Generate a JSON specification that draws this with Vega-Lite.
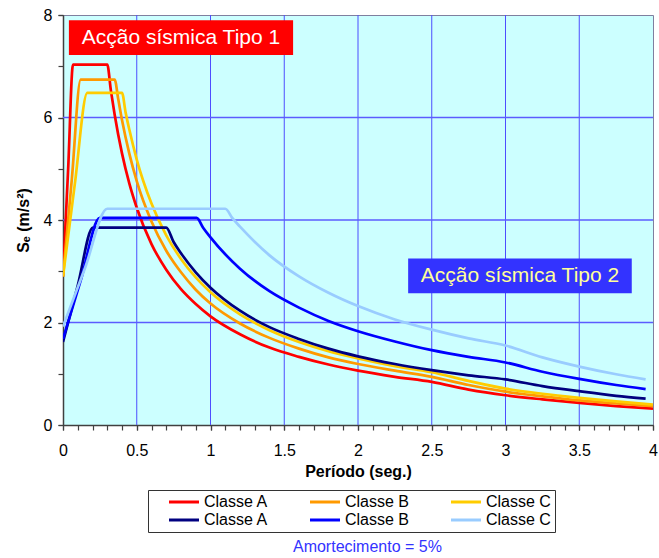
{
  "$schema": "https://vega.github.io/schema/vega-lite/v6.json",
  "width": 590,
  "height": 410,
  "autosize": "none",
  "padding": {"left": 63, "top": 15, "right": 6, "bottom": 133},
  "config": {
    "font": "Liberation Sans",
    "view": {"fill": "#ccffff", "stroke": "#7f7f9f", "strokeWidth": 1}
  },
  "resolve": {"axis": {"x": "independent", "y": "independent"}},
  "datasets": {
    "curves": [
      {"series": "T1A", "T": 0, "Se": 2.9}, {"series": "T1A", "T": 0.035, "Se": 5.0}, {"series": "T1A", "T": 0.068, "Se": 7.03}, {"series": "T1A", "T": 0.30, "Se": 7.03}, {"series": "T1A", "T": 0.325, "Se": 6.52}, {"series": "T1A", "T": 0.35, "Se": 6.06}, {"series": "T1A", "T": 0.4, "Se": 5.3}, {"series": "T1A", "T": 0.45, "Se": 4.71}, {"series": "T1A", "T": 0.5, "Se": 4.24}, {"series": "T1A", "T": 0.6, "Se": 3.53}, {"series": "T1A", "T": 0.7, "Se": 3.03}, {"series": "T1A", "T": 0.8, "Se": 2.65}, {"series": "T1A", "T": 0.9, "Se": 2.36}, {"series": "T1A", "T": 1.0, "Se": 2.12}, {"series": "T1A", "T": 1.2, "Se": 1.77}, {"series": "T1A", "T": 1.4, "Se": 1.51}, {"series": "T1A", "T": 1.6, "Se": 1.33}, {"series": "T1A", "T": 1.8, "Se": 1.18}, {"series": "T1A", "T": 2.0, "Se": 1.06}, {"series": "T1A", "T": 2.25, "Se": 0.94}, {"series": "T1A", "T": 2.5, "Se": 0.84}, {"series": "T1A", "T": 2.75, "Se": 0.69}, {"series": "T1A", "T": 3.0, "Se": 0.58}, {"series": "T1A", "T": 3.25, "Se": 0.5}, {"series": "T1A", "T": 3.5, "Se": 0.43}, {"series": "T1A", "T": 3.75, "Se": 0.37}, {"series": "T1A", "T": 4.0, "Se": 0.32},
      {"series": "T1B", "T": 0, "Se": 2.9}, {"series": "T1B", "T": 0.06, "Se": 4.8}, {"series": "T1B", "T": 0.12, "Se": 6.74}, {"series": "T1B", "T": 0.35, "Se": 6.74}, {"series": "T1B", "T": 0.375, "Se": 6.35}, {"series": "T1B", "T": 0.4, "Se": 5.95}, {"series": "T1B", "T": 0.45, "Se": 5.29}, {"series": "T1B", "T": 0.5, "Se": 4.76}, {"series": "T1B", "T": 0.6, "Se": 3.97}, {"series": "T1B", "T": 0.7, "Se": 3.4}, {"series": "T1B", "T": 0.8, "Se": 2.98}, {"series": "T1B", "T": 0.9, "Se": 2.64}, {"series": "T1B", "T": 1.0, "Se": 2.37}, {"series": "T1B", "T": 1.2, "Se": 1.98}, {"series": "T1B", "T": 1.4, "Se": 1.7}, {"series": "T1B", "T": 1.6, "Se": 1.49}, {"series": "T1B", "T": 1.8, "Se": 1.32}, {"series": "T1B", "T": 2.0, "Se": 1.19}, {"series": "T1B", "T": 2.25, "Se": 1.06}, {"series": "T1B", "T": 2.5, "Se": 0.94}, {"series": "T1B", "T": 2.75, "Se": 0.78}, {"series": "T1B", "T": 3.0, "Se": 0.65}, {"series": "T1B", "T": 3.25, "Se": 0.56}, {"series": "T1B", "T": 3.5, "Se": 0.48}, {"series": "T1B", "T": 3.75, "Se": 0.42}, {"series": "T1B", "T": 4.0, "Se": 0.37},
      {"series": "T1C", "T": 0, "Se": 2.9}, {"series": "T1C", "T": 0.08, "Se": 4.7}, {"series": "T1C", "T": 0.165, "Se": 6.48}, {"series": "T1C", "T": 0.4, "Se": 6.48}, {"series": "T1C", "T": 0.425, "Se": 6.09}, {"series": "T1C", "T": 0.45, "Se": 5.76}, {"series": "T1C", "T": 0.5, "Se": 5.18}, {"series": "T1C", "T": 0.6, "Se": 4.32}, {"series": "T1C", "T": 0.7, "Se": 3.7}, {"series": "T1C", "T": 0.8, "Se": 3.24}, {"series": "T1C", "T": 0.9, "Se": 2.88}, {"series": "T1C", "T": 1.0, "Se": 2.59}, {"series": "T1C", "T": 1.2, "Se": 2.16}, {"series": "T1C", "T": 1.4, "Se": 1.85}, {"series": "T1C", "T": 1.6, "Se": 1.62}, {"series": "T1C", "T": 1.8, "Se": 1.44}, {"series": "T1C", "T": 2.0, "Se": 1.3}, {"series": "T1C", "T": 2.25, "Se": 1.15}, {"series": "T1C", "T": 2.5, "Se": 1.03}, {"series": "T1C", "T": 2.75, "Se": 0.86}, {"series": "T1C", "T": 3.0, "Se": 0.71}, {"series": "T1C", "T": 3.25, "Se": 0.61}, {"series": "T1C", "T": 3.5, "Se": 0.53}, {"series": "T1C", "T": 3.75, "Se": 0.46}, {"series": "T1C", "T": 4.0, "Se": 0.4},
      {"series": "T2A", "T": 0, "Se": 1.62}, {"series": "T2A", "T": 0.1, "Se": 2.72}, {"series": "T2A", "T": 0.203, "Se": 3.85}, {"series": "T2A", "T": 0.7, "Se": 3.85}, {"series": "T2A", "T": 0.75, "Se": 3.57}, {"series": "T2A", "T": 0.8, "Se": 3.35}, {"series": "T2A", "T": 0.9, "Se": 2.98}, {"series": "T2A", "T": 1.0, "Se": 2.68}, {"series": "T2A", "T": 1.2, "Se": 2.23}, {"series": "T2A", "T": 1.4, "Se": 1.91}, {"series": "T2A", "T": 1.6, "Se": 1.68}, {"series": "T2A", "T": 1.8, "Se": 1.49}, {"series": "T2A", "T": 2.0, "Se": 1.34}, {"series": "T2A", "T": 2.25, "Se": 1.19}, {"series": "T2A", "T": 2.5, "Se": 1.07}, {"series": "T2A", "T": 2.75, "Se": 0.97}, {"series": "T2A", "T": 3.0, "Se": 0.89}, {"series": "T2A", "T": 3.25, "Se": 0.76}, {"series": "T2A", "T": 3.5, "Se": 0.66}, {"series": "T2A", "T": 3.75, "Se": 0.57}, {"series": "T2A", "T": 3.95, "Se": 0.515},
      {"series": "T2B", "T": 0, "Se": 1.68}, {"series": "T2B", "T": 0.12, "Se": 2.82}, {"series": "T2B", "T": 0.25, "Se": 4.04}, {"series": "T2B", "T": 0.906, "Se": 4.04}, {"series": "T2B", "T": 0.95, "Se": 3.85}, {"series": "T2B", "T": 1.0, "Se": 3.66}, {"series": "T2B", "T": 1.2, "Se": 3.05}, {"series": "T2B", "T": 1.4, "Se": 2.61}, {"series": "T2B", "T": 1.6, "Se": 2.29}, {"series": "T2B", "T": 1.8, "Se": 2.03}, {"series": "T2B", "T": 2.0, "Se": 1.83}, {"series": "T2B", "T": 2.25, "Se": 1.63}, {"series": "T2B", "T": 2.5, "Se": 1.46}, {"series": "T2B", "T": 2.75, "Se": 1.33}, {"series": "T2B", "T": 3.0, "Se": 1.22}, {"series": "T2B", "T": 3.25, "Se": 1.04}, {"series": "T2B", "T": 3.5, "Se": 0.9}, {"series": "T2B", "T": 3.75, "Se": 0.78}, {"series": "T2B", "T": 3.95, "Se": 0.7},
      {"series": "T2C", "T": 0, "Se": 1.92}, {"series": "T2C", "T": 0.15, "Se": 3.07}, {"series": "T2C", "T": 0.30, "Se": 4.22}, {"series": "T2C", "T": 1.1, "Se": 4.22}, {"series": "T2C", "T": 1.15, "Se": 4.03}, {"series": "T2C", "T": 1.2, "Se": 3.87}, {"series": "T2C", "T": 1.4, "Se": 3.31}, {"series": "T2C", "T": 1.6, "Se": 2.9}, {"series": "T2C", "T": 1.8, "Se": 2.58}, {"series": "T2C", "T": 2.0, "Se": 2.32}, {"series": "T2C", "T": 2.25, "Se": 2.06}, {"series": "T2C", "T": 2.5, "Se": 1.86}, {"series": "T2C", "T": 2.75, "Se": 1.69}, {"series": "T2C", "T": 3.0, "Se": 1.55}, {"series": "T2C", "T": 3.25, "Se": 1.32}, {"series": "T2C", "T": 3.5, "Se": 1.14}, {"series": "T2C", "T": 3.75, "Se": 0.99}, {"series": "T2C", "T": 3.95, "Se": 0.89}
    ],
    "vgrid": [{"v": 0.5}, {"v": 1}, {"v": 1.5}, {"v": 2}, {"v": 2.5}, {"v": 3}, {"v": 3.5}],
    "hgrid": [{"h": 2}, {"h": 4}, {"h": 6}],
    "box1": [{"label": "Acção sísmica Tipo 1", "t0": 0.04, "t1": 1.56, "s0": 7.22, "s1": 7.9, "tm": 0.8, "sm": 7.55}],
    "box2": [{"label": "Acção sísmica Tipo 2", "t0": 2.34, "t1": 3.856, "s0": 2.57, "s1": 3.25, "tm": 3.098, "sm": 2.9}],
    "note": [{"label": "Amortecimento = 5%", "t": 2.064, "s": -2.38}]
  },
  "layer": [
    {
      "data": {"name": "vgrid"},
      "mark": {"type": "rule", "color": "#4d4dff", "strokeWidth": 1},
      "encoding": {
        "x": {
          "field": "v", "type": "quantitative",
          "scale": {"domain": [0, 4], "nice": false},
          "axis": {
            "orient": "bottom",
            "values": [0, 0.1, 0.2, 0.3, 0.4, 0.5, 0.6, 0.7, 0.8, 0.9, 1, 1.1, 1.2, 1.3, 1.4, 1.5, 1.6, 1.7, 1.8, 1.9, 2, 2.1, 2.2, 2.3, 2.4, 2.5, 2.6, 2.7, 2.8, 2.9, 3, 3.1, 3.2, 3.3, 3.4, 3.5, 3.6, 3.7, 3.8, 3.9, 4],
            "labels": false, "title": null, "grid": false, "domain": false,
            "tickColor": "#404040", "tickSize": 5, "tickWidth": 1.2
          }
        }
      }
    },
    {
      "data": {"name": "hgrid"},
      "mark": {"type": "rule", "color": "#5c5cff", "strokeWidth": 1.5},
      "encoding": {
        "y": {
          "field": "h", "type": "quantitative",
          "scale": {"domain": [0, 8], "nice": false},
          "axis": {
            "orient": "left",
            "values": [0, 1, 2, 3, 4, 5, 6, 7, 8],
            "labels": false, "title": null, "grid": false, "domain": false,
            "tickColor": "#404040", "tickSize": 5, "tickWidth": 1.2
          }
        }
      }
    },
    {
      "data": {"name": "curves"},
      "mark": {"type": "line", "strokeWidth": 2.7, "interpolate": "monotone", "clip": true},
      "encoding": {
        "x": {
          "field": "T", "type": "quantitative",
          "scale": {"domain": [0, 4], "nice": false},
          "axis": {
            "orient": "bottom",
            "title": "Período (seg.)",
            "values": [0, 0.5, 1, 1.5, 2, 2.5, 3, 3.5, 4],
            "format": "~g",
            "labelOverlap": false,
            "labelFlush": false,
            "grid": false,
            "domainColor": "#404040",
            "domainWidth": 1.5,
            "tickColor": "#404040",
            "tickSize": 5,
            "tickWidth": 1.2,
            "labelFontSize": 16,
            "labelColor": "black",
            "labelPadding": 12,
            "titleFontSize": 16,
            "titleFontWeight": "bold",
            "titleColor": "black",
            "titlePadding": 5
          }
        },
        "y": {
          "field": "Se", "type": "quantitative",
          "scale": {"domain": [0, 8], "nice": false},
          "axis": {
            "orient": "left",
            "title": "Sₑ (m/s²)",
            "values": [0, 2, 4, 6, 8],
            "format": "~g",
            "labelOverlap": false,
            "labelFlush": false,
            "grid": false,
            "domainColor": "#404040",
            "domainWidth": 1.5,
            "tickColor": "#404040",
            "tickSize": 5,
            "tickWidth": 1.2,
            "labelFontSize": 16,
            "labelColor": "black",
            "labelPadding": 6,
            "titleFontSize": 16,
            "titleFontWeight": "bold",
            "titleColor": "black",
            "titlePadding": 12
          }
        },
        "color": {
          "field": "series", "type": "nominal",
          "scale": {"domain": ["T1A", "T2A", "T1B", "T2B", "T1C", "T2C"], "range": ["#ff0000", "#000080", "#ff9900", "#0000ff", "#ffcc00", "#99ccff"]},
          "legend": {
            "orient": "none",
            "legendX": 85,
            "legendY": 475,
            "columns": 3,
            "title": null,
            "symbolType": "M-3,0H3",
            "symbolSize": 100,
            "symbolStrokeWidth": 3,
            "symbolOffset": 24,
            "labelOffset": 12,
            "columnPadding": 24,
            "rowPadding": 2,
            "labelFontSize": 16,
            "labelColor": "black",
            "padding": 4,
            "strokeColor": "#333333",
            "fillColor": "white",
            "labelExpr": "'Classe ' + substring(datum.value, 2, 3)"
          }
        }
      }
    },
    {
      "data": {"name": "box1"},
      "mark": {"type": "rect", "color": "#ff0000"},
      "encoding": {
        "x": {"field": "t0", "type": "quantitative", "axis": null},
        "x2": {"field": "t1"},
        "y": {"field": "s0", "type": "quantitative", "axis": null},
        "y2": {"field": "s1"}
      }
    },
    {
      "data": {"name": "box1"},
      "mark": {"type": "text", "color": "white", "fontSize": 21, "align": "center", "baseline": "middle"},
      "encoding": {
        "x": {"field": "tm", "type": "quantitative", "axis": null},
        "y": {"field": "sm", "type": "quantitative", "axis": null},
        "text": {"field": "label"}
      }
    },
    {
      "data": {"name": "box2"},
      "mark": {"type": "rect", "color": "#3333ff"},
      "encoding": {
        "x": {"field": "t0", "type": "quantitative", "axis": null},
        "x2": {"field": "t1"},
        "y": {"field": "s0", "type": "quantitative", "axis": null},
        "y2": {"field": "s1"}
      }
    },
    {
      "data": {"name": "box2"},
      "mark": {"type": "text", "color": "#ffff99", "fontSize": 21, "align": "center", "baseline": "middle"},
      "encoding": {
        "x": {"field": "tm", "type": "quantitative", "axis": null},
        "y": {"field": "sm", "type": "quantitative", "axis": null},
        "text": {"field": "label"}
      }
    },
    {
      "data": {"name": "note"},
      "mark": {"type": "text", "color": "#3333ff", "fontSize": 16, "align": "center", "baseline": "middle", "clip": false},
      "encoding": {
        "x": {"field": "t", "type": "quantitative", "axis": null},
        "y": {"field": "s", "type": "quantitative", "axis": null},
        "text": {"field": "label"}
      }
    }
  ]
}
